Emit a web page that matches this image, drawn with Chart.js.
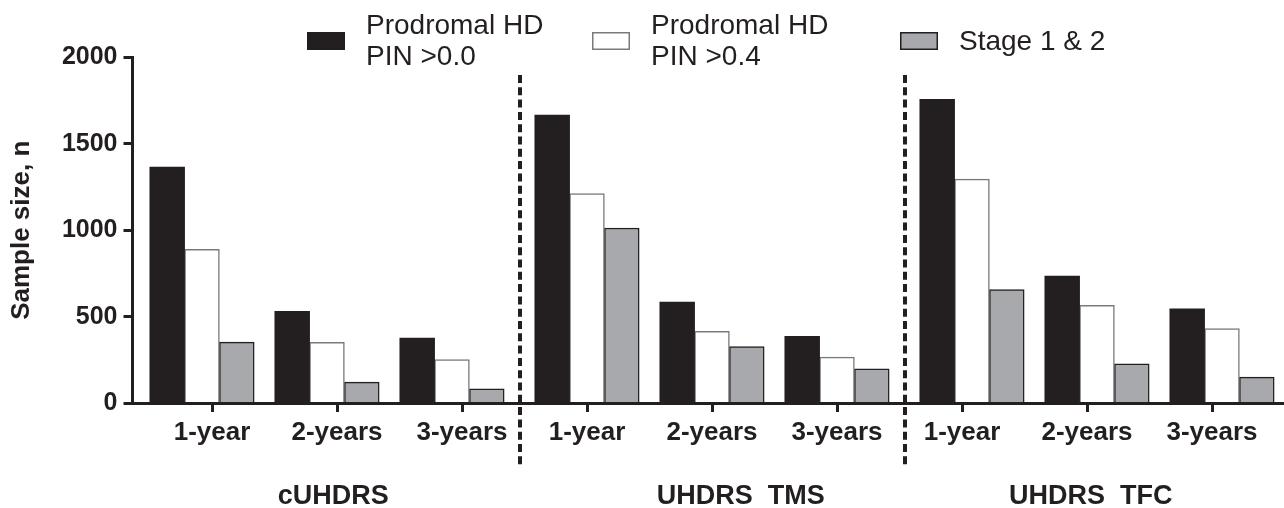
<!DOCTYPE html>
<html>
<head>
<meta charset="utf-8">
<title>Sample size by outcome measure</title>
<script src="https://cdn.jsdelivr.net/npm/chart.js@4/dist/chart.umd.min.js"></script>
<style>
  html, body { margin: 0; padding: 0; background: #ffffff; }
  #wrap { width: 1284px; height: 508px; }
</style>
</head>
<body>
<div id="wrap"><canvas id="chart" width="1284" height="508"></canvas></div>
<script>
// Outcome measures (one block of three periods each)
const sections = ['cUHDRS', 'UHDRS  TMS', 'UHDRS  TFC'];
// Trial duration within each block
const periods = ['1-year', '2-years', '3-years'];

// Series names as drawn in the legend
const seriesNames = [
  ['Prodromal HD', 'PIN >0.0'],
  ['Prodromal HD', 'PIN >0.4'],
  ['Stage 1 & 2']
];

// Required sample size, n (cUHDRS x3, UHDRS TMS x3, UHDRS TFC x3)
const prodromalPin00 = [1365, 532, 377, 1665, 585, 387, 1755, 736, 547];
const prodromalPin04 = [890, 353, 254, 1212, 416, 268, 1295, 566, 432];
const stage12 = [354, 123, 85, 1013, 329, 200, 657, 229, 152];

// Y axis ticks
const yTicks = [0, 500, 1000, 1500, 2000];

// ---- layout / style ----
const INK = '#231f20';
const FONT = '"Liberation Sans", Arial, Helvetica, sans-serif';
const SECTION_SHIFT = 0.08;          // bar blocks drift apart slightly per section
const SECTION_TITLE_NUDGE = [-0.03, 0.23, 0.03];
const X_MIN = 0.364, X_MAX = 9.576;

Chart.defaults.font.family = FONT;
Chart.defaults.color = INK;

const tickLabels = [];
sections.forEach(() => periods.forEach(p => tickLabels.push(p)));

// group position on the x scale: category slot plus a per-section shift
function groupPos(i) {
  const s = Math.floor(i / periods.length);
  return i + 1 + (s - 1) * SECTION_SHIFT;
}
function toPoints(values) {
  return values.map((v, i) => ({ x: groupPos(i), y: v }));
}

const seriesValues = [prodromalPin00, prodromalPin04, stage12];
const seriesStyle = [
  { fill: INK, border: INK, width: 0 },
  { fill: '#ffffff', border: '#7a7a7c', width: 1.5 },
  { fill: '#a7a9ac', border: INK, width: 1.5 }
];

const datasets = seriesValues.map((vals, k) => ({
  label: seriesNames[k].join(' '),
  legendLines: seriesNames[k],
  data: toPoints(vals),
  backgroundColor: seriesStyle[k].fill,
  borderColor: seriesStyle[k].border,
  borderWidth: seriesStyle[k].width,
  barThickness: 34.8
}));

// legend drawn as boxes with (possibly) two-line labels
const boxLegend = {
  id: 'boxLegend',
  afterDraw(chart, args, opts) {
    const ctx = chart.ctx;
    ctx.save();
    chart.data.datasets.forEach((ds, i) => {
      const x = opts.xs[i];
      ctx.fillStyle = ds.backgroundColor;
      ctx.fillRect(x, opts.boxY, opts.boxW, opts.boxH);
      ctx.lineWidth = 1.5;
      ctx.strokeStyle = ds.borderColor;
      ctx.strokeRect(x + 0.75, opts.boxY + 0.75, opts.boxW - 1.5, opts.boxH - 1.5);
      ctx.fillStyle = INK;
      ctx.font = opts.font;
      ctx.textAlign = 'left';
      ctx.textBaseline = 'alphabetic';
      const lines = ds.legendLines;
      lines.forEach((line, j) => {
        const y = opts.midBaseline + (j - (lines.length - 1) / 2) * opts.lineHeight;
        ctx.fillText(line, x + opts.textGap, y);
      });
    });
    ctx.restore();
  }
};

// dashed separators between outcome blocks
const blockDividers = {
  id: 'blockDividers',
  afterDraw(chart, args, opts) {
    const xs = chart.scales.x;
    const ctx = chart.ctx;
    ctx.save();
    ctx.strokeStyle = INK;
    ctx.lineWidth = 4;
    ctx.setLineDash([8, 4.3]);
    for (let s = 1; s < sections.length; s++) {
      const last = s * periods.length - 1;
      const v = (groupPos(last) + groupPos(last + 1)) / 2;
      const px = Math.round(xs.getPixelForValue(v));
      ctx.beginPath();
      ctx.moveTo(px, opts.top);
      ctx.lineTo(px, opts.bottom);
      ctx.stroke();
    }
    ctx.restore();
  }
};

new Chart(document.getElementById('chart'), {
  type: 'bar',
  data: { datasets },
  plugins: [boxLegend, blockDividers],
  options: {
    responsive: false,
    animation: false,
    layout: { padding: { top: 57, right: 0, bottom: 0, left: 0 } },
    plugins: {
      legend: { display: false },
      tooltip: { enabled: false },
      boxLegend: {
        xs: [307, 592, 900],
        boxY: 32, boxW: 38, boxH: 18,
        textGap: 59,
        midBaseline: 49.5,
        lineHeight: 31,
        font: '28px ' + FONT
      },
      blockDividers: { top: 75, bottom: 466 }
    },
    scales: {
      x: {
        type: 'linear',
        position: 'bottom',
        min: X_MIN,
        max: X_MAX,
        offset: false,
        afterBuildTicks(scale) {
          scale.ticks = tickLabels.map((_, i) => ({ value: i + 1 }));
        },
        afterFit(scale) { scale.height = 60; },
        ticks: {
          autoSkip: false,
          maxRotation: 0,
          padding: 5,
          color: INK,
          font: { size: 26, weight: 'bold' },
          callback: (value, index) => tickLabels[index]
        },
        grid: {
          display: true,
          offset: false,
          drawOnChartArea: false,
          drawTicks: true,
          tickLength: 8.5,
          tickWidth: 3,
          tickColor: INK,
          color: INK,
          lineWidth: 3
        },
        border: { display: true, color: INK, width: 3 }
      },
      sectionAxis: {
        type: 'linear',
        position: 'bottom',
        axis: 'x',
        min: X_MIN,
        max: X_MAX,
        offset: false,
        afterBuildTicks(scale) {
          scale.ticks = sections.map((_, s) => ({
            value: s * periods.length + (periods.length + 1) / 2 + SECTION_TITLE_NUDGE[s]
          }));
        },
        afterFit(scale) { scale.height = 44.5; },
        ticks: {
          autoSkip: false,
          maxRotation: 0,
          padding: 17,
          color: INK,
          font: { size: 27, weight: 'bold' },
          callback: (value, index) => sections[index]
        },
        grid: { display: false, offset: false, drawTicks: false },
        border: { display: false }
      },
      y: {
        type: 'linear',
        min: 0,
        max: 2000,
        afterBuildTicks(scale) {
          scale.ticks = yTicks.map(v => ({ value: v }));
        },
        afterFit(scale) { scale.width = 132.5; },
        ticks: {
          padding: 6,
          color: INK,
          font: { size: 25, weight: 'bold' },
          callback: (value) => String(value)
        },
        grid: {
          display: true,
          drawOnChartArea: false,
          drawTicks: true,
          tickLength: 9,
          tickWidth: 3,
          tickColor: INK,
          color: INK,
          lineWidth: 3
        },
        border: { display: true, color: INK, width: 3 },
        title: {
          display: true,
          text: 'Sample size, n',
          color: INK,
          font: { size: 26, weight: 'bold' },
          padding: { top: 6, bottom: 0 }
        }
      }
    }
  }
});
</script>
</body>
</html>
